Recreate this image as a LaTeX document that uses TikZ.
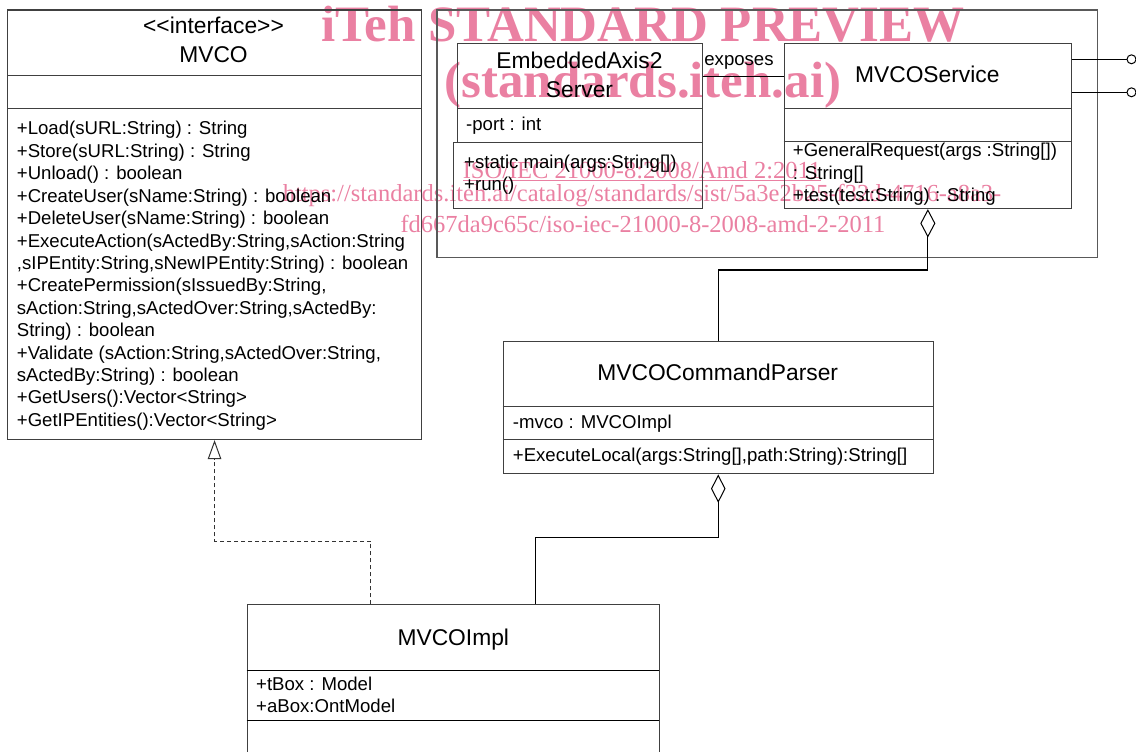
\documentclass[tikz,border=0pt]{standalone}
\usepackage{fontspec}
\setmainfont{Liberation Sans}
\newfontfamily\wmfont{Liberation Serif}
\usetikzlibrary{arrows.meta,calc}
\definecolor{wmpink}{RGB}{234,128,162}
\newcommand\bodyf{\fontsize{18.6}{22.4}\selectfont}
\newcommand\titlef{\fontsize{22.8}{28.7}\selectfont}
\newcommand\wmbig{\wmfont\bfseries\fontsize{51}{51}\selectfont}
\newcommand\wmsmall{\wmfont\fontsize{24.5}{26}\selectfont}
\begin{document}
\begin{tikzpicture}[x=1pt,y=-1pt,
  box/.style={draw=black!75, line width=1.1pt, inner sep=0pt, anchor=north west},
  div/.style={draw=black!75, line width=1.1pt},
  txt/.style={anchor=base west, inner sep=0pt, font=\bodyf},
  ttl/.style={anchor=base, inner sep=0pt, font=\titlef},
  conn/.style={draw=black, line width=1.1pt},
  lolly/.style={draw=black, line width=1pt, circle, minimum size=9pt, inner sep=0pt},
  wm/.style={text=wmpink, inner sep=0pt, anchor=base}]
\useasboundingbox (0,0) rectangle (1136,752);

% watermark (behind)
\node[wm, font=\wmbig] (wm1) at (643,42) {iTeh STANDARD PREVIEW};
\node[wm, font=\wmbig] (wm2) at (643,97) {(standards.iteh.ai)};
\node[wm, font=\wmsmall] (wm3) at (642,178) {\underline{ISO/IEC 21000-8:2008/Amd 2:2011}};
\node[wm, font=\wmsmall] (wm4) at (642,201) {https://standards.iteh.ai/catalog/standards/sist/5a3e2b25-f32d-4716-a8a3-};
\node[wm, font=\wmsmall] (wm5) at (643,232) {fd667da9c65c/iso-iec-21000-8-2008-amd-2-2011};

% MVCO interface
\node[box, minimum width=413.4pt, minimum height=429.5pt] (mvco) at (7.3,9.5) {};
\draw[div] (7.3,75.7) -- (420.7,75.7);
\draw[div] (7.3,108.3) -- (420.7,108.3);
\node[ttl] (mvcost) at (213.5,33.5) {<{}<interface>{}>};
\node[ttl] (mvconame) at (213.5,63) {MVCO};
\foreach \t [count=\i] in {
  {+Load(sURL:String) : String},
  {+Store(sURL:String) : String},
  {+Unload() : boolean},
  {+CreateUser(sName:String) : boolean},
  {+DeleteUser(sName:String) : boolean},
  {+ExecuteAction(sActedBy:String,sAction:String},
  {,sIPEntity:String,sNewIPEntity:String) : boolean},
  {+CreatePermission(sIssuedBy:String,},
  {sAction:String,sActedOver:String,sActedBy:},
  {String) : boolean},
  {+Validate (sAction:String,sActedOver:String,},
  {sActedBy:String) : boolean},
  {+GetUsers():Vector<String>},
  {+GetIPEntities():Vector<String>}}
  \node[txt] (mvcoop\i) at (16.7,{135+(\i-1)*22.4}) {\t};

% package frame
\draw[draw=black!65, line width=1.1pt] (437,10) rectangle (1097.3,257.7);

% EmbeddedAxis2 Server
\node[box, minimum width=244.4pt, minimum height=99pt] (eas) at (457.3,42.7) {};
\draw[div] (457.3,108.3) -- (701.7,108.3);
\node[box, minimum width=248.7pt, minimum height=66.3pt] (easops) at (453,141.7) {};
\node[ttl] (easname1) at (579.5,68.5) {EmbeddedAxis2};
\node[ttl] (easname2) at (579.5,97.5) {Server};
\node[txt] (easattr) at (466,131) {-port : int};
\node[txt] (easop1) at (464,168.5) {+static main(args:String[])};
\node[txt] (easop2) at (464,190.5) {+run()};

% MVCOService
\node[box, minimum width=287.4pt, minimum height=165.3pt] (service) at (783.6,42.7) {};
\draw[div] (783.6,108.3) -- (1071,108.3);
\draw[div] (783.6,141.7) -- (1071,141.7);
\node[ttl] (servname) at (927.3,82) {MVCOService};
\node[txt] (servop1) at (792.7,157) {+GeneralRequest(args :String[])};
\node[txt] (servop2) at (792.7,179) {: String[]};
\node[txt] (servop3) at (792.7,201) {+test(test:String) : String};

% exposes
\draw[conn] ([yshift=16pt]eas.east) -- ([yshift=16pt]eas.east -| service.west);
\node[anchor=base, inner sep=0pt, font=\bodyf] (exposes) at (739,65.5) {exposes};

% lollipops
\node[lolly] (lolA) at (1131.5,59.3) {};
\node[lolly] (lolB) at (1131.5,92.3) {};
\draw[conn] (service.east |- lolA) -- (lolA.west);
\draw[conn] (service.east |- lolB) -- (lolB.west);

% MVCOCommandParser
\node[box, minimum width=430pt, minimum height=132.3pt] (parser) at (502.7,341) {};
\draw[div] (502.7,406.7) -- (932.7,406.7);
\draw[div] (502.7,439.3) -- (932.7,439.3);
\node[ttl] (parsname) at (717.7,380) {MVCOCommandParser};
\node[txt] (parsattr) at (512.7,428.3) {-mvco : MVCOImpl};
\node[txt] (parsop) at (512.7,461) {+ExecuteLocal(args:String[],path:String):String[]};

% MVCOImpl
\node[box, minimum width=412.6pt, minimum height=150pt] (impl) at (246.7,604.3) {};
\draw[conn] (246.7,670.7) -- (659.3,670.7);
\draw[conn] (246.7,720.7) -- (659.3,720.7);
\node[ttl] (implname) at (453.3,645) {MVCOImpl};
\node[txt] (implattr1) at (256,690.7) {+tBox : Model};
\node[txt] (implattr2) at (256,712.7) {+aBox:OntModel};

% aggregation parser -> service
\draw[conn, -{Diamond[open, length=28.5pt, width=15pt, line width=1pt]}]
  (parser.north) -- ++(0,-71) -| (service.south);
% aggregation impl -> parser
\draw[conn, -{Diamond[open, length=28.5pt, width=14.5pt, line width=1pt]}]
  ([xshift=289pt]impl.north west) -- ++(0,-66.6) -| (parser.south);
% realization impl -> MVCO
\draw[draw=black!80, line width=1pt, dash pattern=on 4pt off 3pt,
  -{Triangle[open, length=19pt, width=13.5pt, line width=1pt]}]
  ([xshift=124pt]impl.north west) -- ++(0,-63.3) -| (mvco.south);
\end{tikzpicture}
\end{document}
